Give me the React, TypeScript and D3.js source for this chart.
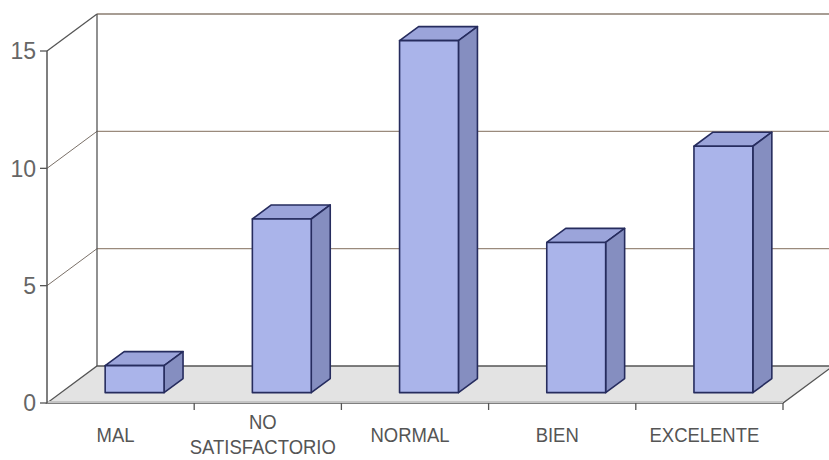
import * as d3 from 'd3';
import React from 'react';

const categories = ['MAL', 'NO SATISFACTORIO', 'NORMAL', 'BIEN', 'EXCELENTE'];
const values = [1.15, 7.4, 15, 6.4, 10.5];
const yTicks = [0, 5, 10, 15];

const W = 829;
const H = 460;
// oblique depth of the 3D box
const DX = 50;
const DY = -37;
// bars sit in the middle slice of the depth
const F0 = 0.28;
const F1 = 0.66;

function App() {
  const x = d3.scaleBand<string>()
    .domain(categories)
    .range([47, 783])
    .paddingInner(0.6)
    .paddingOuter(0.3);
  const y = d3.scaleLinear().domain([0, 15]).range([403, 51]);

  const step = x.step();
  const x0 = 47;
  const x1 = 783;
  const yb = y(0);
  const yt = y(15);

  const font = '"Liberation Sans", Arial, sans-serif';

  const pt = (px: number, py: number) => `${px},${py}`;

  return (
    <svg
      width={W}
      height={H}
      style={{ position: 'absolute', left: 0, top: 0, background: '#fff' }}
    >
      {/* left wall */}
      <polygon
        points={[pt(x0, yt), pt(x0 + DX, yt + DY), pt(x0 + DX, yb + DY), pt(x0, yb)].join(' ')}
        fill="#fff"
      />
      {/* floor */}
      <polygon
        points={[pt(x0, yb), pt(x1, yb), pt(x1 + DX, yb + DY), pt(x0 + DX, yb + DY)].join(' ')}
        fill="#e3e3e3"
        stroke="#555"
        strokeWidth={1.3}
      />
      <line x1={x0} x2={x1} y1={yb - 1} y2={yb - 1} stroke="#c4c4c4" strokeWidth={2} />

      {/* gridlines on back and side walls */}
      {yTicks.filter(t => t > 0 && t < 15).map(t => (
        <g key={t}>
          <line x1={x0} y1={y(t)} x2={x0 + DX} y2={y(t) + DY} stroke="#7a7068" strokeWidth={1} />
          <line x1={x0 + DX} y1={y(t) + DY} x2={W + 5} y2={y(t) + DY} stroke="#9a8a7c" strokeWidth={1.2} />
        </g>
      ))}

      {/* wall edges */}
      <line x1={x0} y1={yt} x2={x0 + DX} y2={yt + DY} stroke="#555" strokeWidth={1.3} />
      <line x1={x0 + DX} y1={yt + DY} x2={W + 5} y2={yt + DY} stroke="#8a7c70" strokeWidth={1.3} />
      <line x1={x0 + DX} y1={yt + DY} x2={x0 + DX} y2={yb + DY} stroke="#555" strokeWidth={1.3} />

      {/* y axis */}
      <line x1={x0} y1={yt} x2={x0} y2={yb} stroke="#555" strokeWidth={1.5} />
      {yTicks.map(t => (
        <g key={t}>
          <line x1={x0 - 7} x2={x0} y1={y(t)} y2={y(t)} stroke="#555" strokeWidth={1.3} />
          <text
            x={36}
            y={y(t)}
            dy="0.36em"
            textAnchor="end"
            fontFamily={font}
            fontSize={23}
            fill="#666"
          >
            {t}
          </text>
        </g>
      ))}

      {/* category ticks */}
      {categories.map((c, i) => {
        const tx = x0 + step * (i + 1);
        return <line key={c} x1={tx} x2={tx} y1={yb} y2={yb + 7} stroke="#555" strokeWidth={1.3} />;
      })}

      {/* bars */}
      {categories.map((c, i) => {
        const bx = (x(c) || 0) + F0 * DX;
        const bw = x.bandwidth();
        const ob = yb + F0 * DY;
        const top = y(values[i]) + F0 * DY;
        const ddx = (F1 - F0) * DX;
        const ddy = (F1 - F0) * DY;
        const stroke = '#262c5e';
        return (
          <g key={c} stroke={stroke} strokeWidth={1.6} strokeLinejoin="round">
            <polygon
              points={[pt(bx, top), pt(bx + ddx, top + ddy), pt(bx + bw + ddx, top + ddy), pt(bx + bw, top)].join(' ')}
              fill="#9ba4da"
            />
            <polygon
              points={[pt(bx + bw, top), pt(bx + bw + ddx, top + ddy), pt(bx + bw + ddx, ob + ddy), pt(bx + bw, ob)].join(' ')}
              fill="#858ec0"
            />
            <rect x={bx} y={top} width={bw} height={ob - top} fill="#aab4ea" />
          </g>
        );
      })}

      {/* category labels */}
      {categories.map(c => {
        const cx = (x(c) || 0) + x.bandwidth() / 2 - 5;
        const lines = c.includes(' ') ? c.split(' ') : [c];
        const ys = lines.length > 1 ? [429, 454] : [442];
        return lines.map((l, j) => (
          <text
            key={c + j}
            transform={`translate(${cx},${ys[j]}) scale(0.88,1)`}
            textAnchor="middle"
            fontFamily={font}
            fontSize={21}
            fill="#555"
          >
            {l}
          </text>
        ));
      })}
    </svg>
  );
}

export default App;
